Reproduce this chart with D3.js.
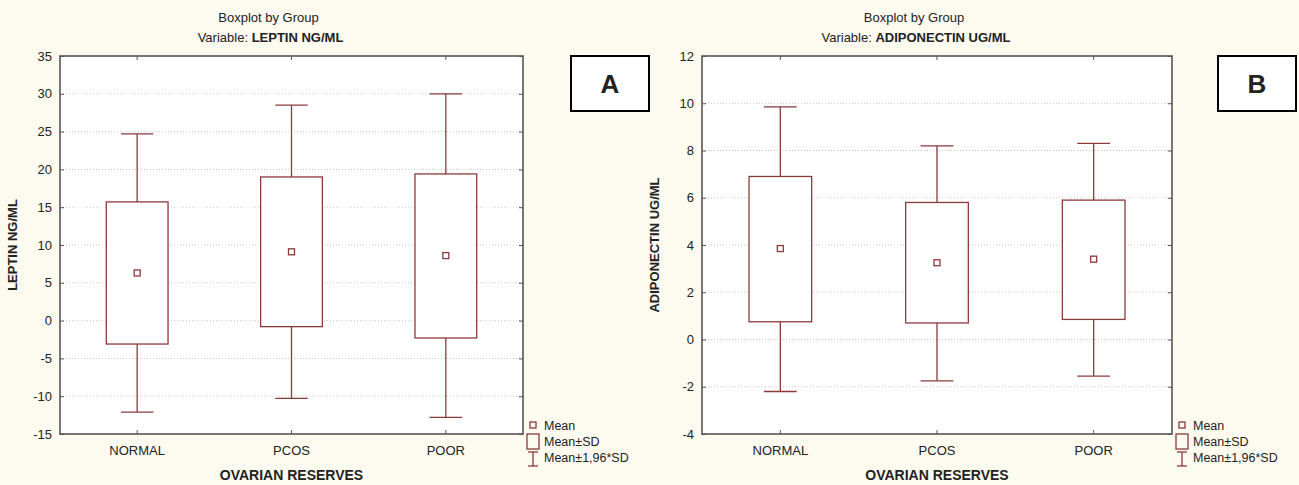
<!DOCTYPE html>
<html>
  <head>
    <meta charset="utf-8">
    <script src="https://d3js.org/d3.v7.min.js"></script>
    <style>
      body { margin: 0; background: #fdfaf0; }
      text { font-family: "Liberation Sans", Arial, sans-serif; fill: #222; }
    </style>
  </head>
  <body>
    <script type="text/javascript">
      // groups on the x axis
      var groups = ["NORMAL", "PCOS", "POOR"];

      // panel A : leptin
      var leptinMean   = [6.3, 9.1, 8.6];
      var leptinSdLow  = [-3.1, -0.8, -2.3];
      var leptinSdHigh = [15.7, 19.0, 19.4];
      var leptinCiLow  = [-12.1, -10.3, -12.8];
      var leptinCiHigh = [24.7, 28.5, 30.0];
      var leptinTicks  = [-15, -10, -5, 0, 5, 10, 15, 20, 25, 30, 35];

      // panel B : adiponectin
      var adipoMean   = [3.85, 3.25, 3.4];
      var adipoSdLow  = [0.75, 0.7, 0.85];
      var adipoSdHigh = [6.9, 5.8, 5.9];
      var adipoCiLow  = [-2.2, -1.75, -1.55];
      var adipoCiHigh = [9.85, 8.2, 8.3];
      var adipoTicks  = [-4, -2, 0, 2, 4, 6, 8, 10, 12];

      var legendLabels = ["Mean", "Mean\u00b1SD", "Mean\u00b11,96*SD"];

      var boxColor = "#8b3a3a";

      var svg = d3.select("body").append("svg")
        .attr("width", 1299)
        .attr("height", 485);

      function drawPanel(p) {
        var g = svg.append("g");

        var x = d3.scaleBand().domain(groups).range([p.left, p.right]);
        var y = d3.scaleLinear()
          .domain([p.ticks[0], p.ticks[p.ticks.length - 1]])
          .range([434, 56]);

        var rows = groups.map(function (d, i) {
          return { g: d, mean: p.mean[i], sdLo: p.sdLow[i], sdHi: p.sdHigh[i],
                   ciLo: p.ciLow[i], ciHi: p.ciHigh[i] };
        });

        // titles (centred a bit left of the plot, as in the original)
        var mid = (p.left + p.right) / 2;
        g.append("text").attr("x", mid - 23).attr("y", 22)
          .attr("text-anchor", "middle").style("font-size", "13px")
          .text("Boxplot by Group");
        var t2 = g.append("text").attr("x", mid - 21).attr("y", 42)
          .attr("text-anchor", "middle").style("font-size", "13px");
        t2.append("tspan").text("Variable: ");
        t2.append("tspan").style("font-weight", "bold").text(p.variable);

        // plot background
        g.append("rect")
          .attr("x", p.left).attr("y", 56)
          .attr("width", p.right - p.left).attr("height", 378)
          .attr("fill", "#fff");

        // grid lines
        g.selectAll(".grid")
          .data(p.ticks.slice(1, -1))
          .enter().append("line")
            .attr("x1", p.left).attr("x2", p.right)
            .attr("y1", function (d) { return y(d); })
            .attr("y2", function (d) { return y(d); })
            .attr("stroke", "#c8c8c8")
            .attr("stroke-dasharray", "1,2");

        // axes with inward ticks, plain hyphen for negatives
        var yAxisL = d3.axisLeft(y).tickValues(p.ticks).tickSize(-4).tickPadding(8)
          .tickFormat(function (d) { return String(d); });
        var gl = g.append("g").attr("transform", "translate(" + p.left + ",0)").call(yAxisL);
        gl.selectAll("text").style("font-size", "13px");
        g.append("g").attr("transform", "translate(" + p.right + ",0)")
          .call(d3.axisRight(y).tickValues(p.ticks).tickSize(-4).tickFormat(""));

        var gb = g.append("g").attr("transform", "translate(0,434)")
          .call(d3.axisBottom(x).tickSize(-4).tickPadding(12));
        gb.selectAll("text").style("font-size", "13px");
        g.append("g").attr("transform", "translate(0,56)")
          .call(d3.axisTop(x).tickSize(-4).tickFormat(""));

        g.selectAll(".domain").attr("stroke", "none");
        g.selectAll(".tick line").attr("stroke", "#555");
        g.selectAll(".tick text").attr("fill", "#222");

        // frame
        g.append("rect")
          .attr("x", p.left).attr("y", 56)
          .attr("width", p.right - p.left).attr("height", 378)
          .attr("fill", "none").attr("stroke", "#555").attr("stroke-width", 1.6);

        var bw = x.bandwidth() * 0.4;
        var cw = x.bandwidth() * 0.21;
        var cx = function (d) { return x(d.g) + x.bandwidth() / 2; };

        var box = g.selectAll(".box").data(rows).enter().append("g")
          .attr("stroke", boxColor).attr("stroke-width", 1.3).attr("fill", "none");

        // whiskers
        box.append("line")
          .attr("x1", cx).attr("x2", cx)
          .attr("y1", function (d) { return y(d.ciHi); })
          .attr("y2", function (d) { return y(d.ciLo); });
        box.append("line")
          .attr("x1", function (d) { return cx(d) - cw / 2; })
          .attr("x2", function (d) { return cx(d) + cw / 2; })
          .attr("y1", function (d) { return y(d.ciHi); })
          .attr("y2", function (d) { return y(d.ciHi); });
        box.append("line")
          .attr("x1", function (d) { return cx(d) - cw / 2; })
          .attr("x2", function (d) { return cx(d) + cw / 2; })
          .attr("y1", function (d) { return y(d.ciLo); })
          .attr("y2", function (d) { return y(d.ciLo); });

        // mean +- sd box
        box.append("rect")
          .attr("x", function (d) { return cx(d) - bw / 2; })
          .attr("width", bw)
          .attr("y", function (d) { return y(d.sdHi); })
          .attr("height", function (d) { return y(d.sdLo) - y(d.sdHi); })
          .attr("fill", "#fff");

        // mean marker
        box.append("rect")
          .attr("x", function (d) { return cx(d) - 3; })
          .attr("y", function (d) { return y(d.mean) - 3; })
          .attr("width", 6).attr("height", 6)
          .attr("fill", "#fff");

        // axis titles
        g.append("text")
          .attr("transform", "translate(" + (p.left - 43) + ",245) rotate(-90)")
          .attr("text-anchor", "middle")
          .style("font-size", "13px").style("font-weight", "bold")
          .text(p.yTitle);
        g.append("text").attr("x", mid).attr("y", 480)
          .attr("text-anchor", "middle")
          .style("font-size", "14px").style("font-weight", "bold")
          .text("OVARIAN RESERVES");

        // legend
        var lx = p.right + 10;
        var lg = g.append("g").attr("stroke", boxColor).attr("stroke-width", 1.3).attr("fill", "none");
        lg.append("rect").attr("x", lx - 3).attr("y", 422).attr("width", 6).attr("height", 6);
        lg.append("rect").attr("x", lx - 6).attr("y", 434).attr("width", 12).attr("height", 15);
        lg.append("line").attr("x1", lx).attr("x2", lx).attr("y1", 452).attr("y2", 466);
        lg.append("line").attr("x1", lx - 5).attr("x2", lx + 5).attr("y1", 452).attr("y2", 452);
        lg.append("line").attr("x1", lx - 5).attr("x2", lx + 5).attr("y1", 466).attr("y2", 466);
        g.selectAll(".leg").data(legendLabels).enter().append("text")
          .attr("x", lx + 11)
          .attr("y", function (d, i) { return 430 + i * 16; })
          .style("font-size", "12.5px")
          .text(function (d) { return d; });

        // panel letter box
        g.append("rect")
          .attr("x", p.tagX).attr("y", 56).attr("width", 78).attr("height", 55)
          .attr("fill", "#fff").attr("stroke", "#000").attr("stroke-width", 2);
        g.append("text")
          .attr("x", p.tagX + 39).attr("y", 93)
          .attr("text-anchor", "middle")
          .style("font-size", "26px").style("font-weight", "bold")
          .attr("fill", "#000")
          .text(p.tag);
      }

      drawPanel({ left: 60, right: 523, ticks: leptinTicks, mean: leptinMean,
                  sdLow: leptinSdLow, sdHigh: leptinSdHigh, ciLow: leptinCiLow, ciHigh: leptinCiHigh,
                  variable: "LEPTIN NG/ML", yTitle: "LEPTIN NG/ML", tag: "A", tagX: 571 });

      drawPanel({ left: 702, right: 1172, ticks: adipoTicks, mean: adipoMean,
                  sdLow: adipoSdLow, sdHigh: adipoSdHigh, ciLow: adipoCiLow, ciHigh: adipoCiHigh,
                  variable: "ADIPONECTIN UG/ML", yTitle: "ADIPONECTIN UG/ML", tag: "B", tagX: 1218 });
    </script>
  </body>
</html>
